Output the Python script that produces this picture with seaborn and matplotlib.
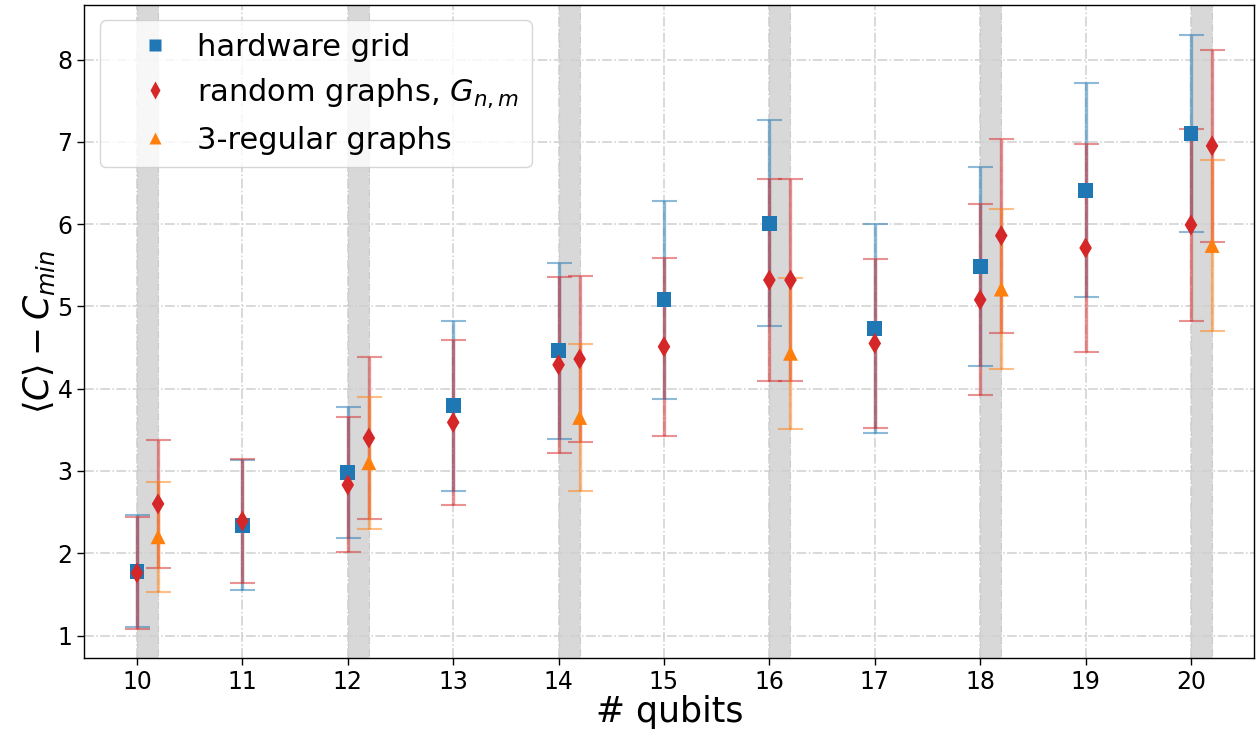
import matplotlib
matplotlib.use("Agg")
import matplotlib.pyplot as plt
import numpy as np
import pandas as pd
import seaborn as sns

# Mean gap <C> - C_min and its spread per problem family, vs. number of qubits
qubits = [10, 11, 12, 13, 14, 15, 16, 17, 18, 19, 20]
hardware_mean = [1.78, 2.34, 2.98, 3.79, 4.46, 5.08, 6.01, 4.73, 5.48, 6.41, 7.10]
hardware_std = [0.68, 0.79, 0.80, 1.03, 1.07, 1.20, 1.25, 1.27, 1.21, 1.30, 1.20]
random_mean = [1.76, 2.39, 2.83, 3.59, 4.29, 4.51, 5.32, 4.55, 5.08, 5.71, 5.99]
random_std = [0.68, 0.75, 0.82, 1.00, 1.07, 1.08, 1.23, 1.03, 1.16, 1.26, 1.17]

# Even sizes: 3-regular graphs and random graphs with the matching edge count
even_qubits = [10, 12, 14, 16, 18, 20]
random_matched_mean = [2.60, 3.40, 4.36, 5.32, 5.86, 6.95]
random_matched_std = [0.78, 0.98, 1.01, 1.23, 1.18, 1.17]
regular_mean = [2.20, 3.10, 3.65, 4.43, 5.21, 5.74]
regular_std = [0.67, 0.80, 0.89, 0.92, 0.97, 1.04]

LBL_HW = "hardware grid"
LBL_RND = r"random graphs, $G_{n,m}$"
LBL_REG = "3-regular graphs"
SHIFT = 0.2

colors = {LBL_HW: "#1f77b4", LBL_RND: "#d62728", LBL_REG: "#ff7f0e"}
markers = {LBL_HW: "s", LBL_RND: "d", LBL_REG: "^"}

frames = [
    pd.DataFrame({"pos": np.array(qubits, float), "mean": hardware_mean,
                  "std": hardware_std, "family": LBL_HW}),
    pd.DataFrame({"pos": np.array(qubits, float), "mean": random_mean,
                  "std": random_std, "family": LBL_RND}),
    pd.DataFrame({"pos": np.array(even_qubits, float) + SHIFT, "mean": random_matched_mean,
                  "std": random_matched_std, "family": LBL_RND}),
    pd.DataFrame({"pos": np.array(even_qubits, float) + SHIFT, "mean": regular_mean,
                  "std": regular_std, "family": LBL_REG}),
]
df = pd.concat(frames, ignore_index=True)

sns.set_theme(style="ticks")
plt.rcParams["font.family"] = ["DejaVu Sans"]
plt.rcParams["mathtext.fontset"] = "dejavusans"
for key in ("text.color", "axes.labelcolor", "xtick.color", "ytick.color", "axes.edgecolor"):
    plt.rcParams[key] = "black"

fig, ax = plt.subplots(figsize=(12.58, 7.42), dpi=100)
fig.subplots_adjust(left=0.067, right=0.997, top=0.993, bottom=0.113)

# shaded bands marking the even sizes
for q in even_qubits:
    ax.axvspan(q, q + SHIFT, facecolor="gray", alpha=0.3, edgecolor="gray",
               linestyle="-.", linewidth=0.8, zorder=0)

# error bars first, markers on top
for fr in frames:
    fam = fr["family"].iloc[0]
    ax.errorbar(fr["pos"], fr["mean"], yerr=fr["std"], fmt="none",
                ecolor=colors[fam], alpha=0.5, elinewidth=2.4,
                capsize=9, capthick=1.5, zorder=2)

sns.scatterplot(data=df, x="pos", y="mean", hue="family", style="family",
                palette=colors, markers=markers, s=115, edgecolor="none",
                hue_order=[LBL_HW, LBL_RND, LBL_REG],
                style_order=[LBL_HW, LBL_RND, LBL_REG], ax=ax, zorder=3)

ax.set_xlim(9.5, 20.6)
ax.set_ylim(0.725, 8.66)
ax.set_xticks(qubits)
ax.set_yticks(range(1, 9))
ax.tick_params(axis="both", labelsize=17, length=5, width=1, color="black")
for sp in ax.spines.values():
    sp.set_visible(True)
    sp.set_color("black")
    sp.set_linewidth(1.0)

ax.grid(True, linestyle="-.", color="#cfcfcf", linewidth=1.1, zorder=0)
ax.set_axisbelow(True)

ax.set_xlabel("# qubits", fontsize=25, labelpad=1)
ax.set_ylabel(r"$\langle C\rangle - C_{min}$", fontsize=25, labelpad=0)

handles, labels = ax.get_legend_handles_labels()
ax.legend(handles, labels, loc="upper left", fontsize=22, frameon=True,
          handlelength=2.8, handletextpad=0.0, borderpad=0.4, labelspacing=0.5,
          markerscale=0.85)

fig.savefig("out.png", dpi=100)
